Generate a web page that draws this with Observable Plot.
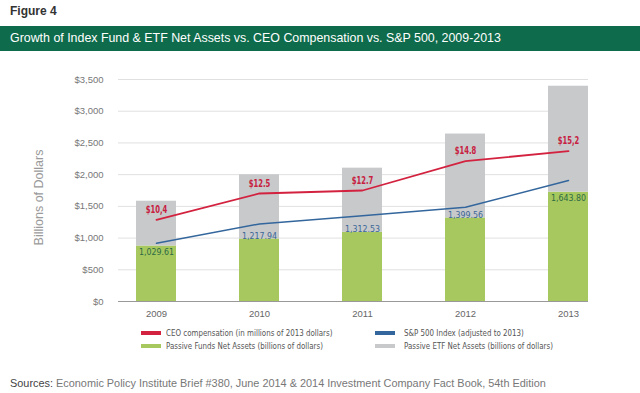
<!DOCTYPE html>
<html><head><meta charset="utf-8">
<script src="https://cdn.jsdelivr.net/npm/d3@7"></script>
<script src="https://cdn.jsdelivr.net/npm/@observablehq/plot@0.6"></script>
<style>
body{margin:0;background:#fff;}
#wrap{position:relative;width:640px;height:393px;overflow:hidden;font-family:"Liberation Sans",Arial,sans-serif;}
#fig{position:absolute;left:10px;top:3px;font-size:12px;font-weight:bold;color:#333;line-height:16px;}
#banner{position:absolute;left:0;top:26px;width:640px;height:25px;background:#0e6b4b;color:#fff;font-size:12.4px;line-height:25px;padding-left:10px;box-sizing:border-box;}
#chart{position:absolute;left:0;top:56px;}
.lg{position:absolute;font-family:"DejaVu Sans Condensed","Liberation Sans",sans-serif;font-size:9px;color:#555;line-height:12px;white-space:nowrap;transform:scaleX(0.875);transform-origin:0 50%;}
.sw{position:absolute;width:20px;height:4px;}
#src{position:absolute;left:10px;top:376px;font-size:10.9px;color:#777;line-height:14px;white-space:nowrap;}
#src span{color:#444;}
</style></head><body>
<div id="wrap">
 <div id="fig">Figure 4</div>
 <div id="banner">Growth of Index Fund &amp; ETF Net Assets vs. CEO Compensation vs. S&amp;P 500, 2009-2013</div>
 <div id="chart"></div>
 <div id="legend"></div>
 <div id="src"><span>Sources:</span> Economic Policy Institute Brief #380, June 2014 &amp; 2014 Investment Company Fact Book, 54th Edition</div>
</div>
<script>
const years = ["2009", "2010", "2011", "2012", "2013"];
const passiveFunds = [875, 986, 1091, 1318, 1723];
const passiveETF = [706, 1012, 1011, 1322, 1671];
const ceoLine = [1287, 1703, 1750, 2213, 2371];
const ceoLabels = ["$10,4", "$12.5", "$12.7", "$14.8", "$15,2"];
const spLine = [917, 1223, 1350, 1486, 1908];
const spLabels = ["1,029.61", "1,217.94", "1,312.53", "1,399.56", "1,643.80"];
const yTicks = [0, 500, 1000, 1500, 2000, 2500, 3000, 3500];
const legendNames = ["CEO compensation (in millions of 2013 dollars)", "S&P 500 Index (adjusted to 2013)", "Passive Funds Net Assets (billions of dollars)", "Passive ETF Net Assets (billions of dollars)"];
const legendColors = ["#d3223f", "#33669c", "#a7c85f", "#c7c9cb"];

const narrow = '"DejaVu Sans Condensed","Liberation Sans",sans-serif';
const ceoText = "#c8203f", spText = "#3b6797", fundText = "#2d6a45";
const barRows = years.flatMap((yr, i) => [
  {year: yr, series: legendNames[2], value: passiveFunds[i]},
  {year: yr, series: legendNames[3], value: passiveETF[i]}
]);
const ceoRows = years.map((yr, i) => ({year: yr, v: ceoLine[i], label: ceoLabels[i]}));
const spRows = years.map((yr, i) => ({year: yr, v: spLine[i]}));
const valRows = years.map((yr, i) => ({year: yr, v: passiveFunds[i], label: spLabels[i], inside: i === 0 || i === years.length - 1}));

const chart = Plot.plot({
  width: 640,
  height: 265,
  marginLeft: 118,
  marginRight: 52,
  marginTop: 23,
  marginBottom: 20,
  style: {fontFamily: '"Liberation Sans",Arial,sans-serif', fontSize: "9.5px", color: "#777", background: "transparent"},
  x: {type: "band", domain: years, paddingInner: 0.612, paddingOuter: 0.0858, align: 1, label: null},
  y: {domain: [0, 3500], label: null},
  color: {domain: [legendNames[2], legendNames[3]], range: [legendColors[2], legendColors[3]]},
  marks: [
    Plot.ruleY(yTicks.filter(d => d > 0), {stroke: "#e0e0e0", strokeWidth: 1}),
    Plot.barY(barRows, {x: "year", y: "value", fill: "series"}),
    Plot.ruleY([0], {stroke: "#999", strokeWidth: 1.2}),
    Plot.line(ceoRows, {x: "year", y: "v", stroke: legendColors[0], strokeWidth: 1.8}),
    Plot.line(spRows, {x: "year", y: "v", stroke: legendColors[1], strokeWidth: 1.5}),
    Plot.text(ceoRows, {x: "year", y: "v", text: "label", dy: -10, fill: ceoText, fontWeight: "bold", fontSize: 10, fontFamily: narrow}),
    Plot.text(valRows.filter(d => !d.inside), {x: "year", y: "v", text: "label", dy: -3, fill: spText, fontSize: 9.5, fontFamily: narrow}),
    Plot.text(valRows.filter(d => d.inside), {x: "year", y: "v", text: "label", dy: 5.5, fill: fundText, fontSize: 9.5, fontFamily: narrow}),
    Plot.axisY({ticks: yTicks, tickSize: 0, tickPadding: 15, tickFormat: d => "$" + d3.format(",")(d), fill: "#777", label: null}),
    Plot.axisX({tickSize: 0, tickPadding: 9, fill: "#666", label: null}),
    Plot.text(["Billions of Dollars"], {frameAnchor: "left", textAnchor: "middle", rotate: -90, dx: -80, dy: 7, fill: "#9a9a9a", fontSize: 12.5})
  ]
});
document.getElementById("chart").appendChild(chart);

function squeeze(color, factor) {
  chart.querySelectorAll(`g[fill="${color}"] text`).forEach(t => {
    const w = t.getComputedTextLength();
    t.setAttribute("textLength", (w * factor).toFixed(1));
    t.setAttribute("lengthAdjust", "spacingAndGlyphs");
  });
}
squeeze(ceoText, 0.76);
squeeze(spText, 0.92);
squeeze(fundText, 0.92);

const lg = document.getElementById("legend");
const pos = [[141, 327], [375, 327], [141, 340], [375, 340]];
legendNames.forEach((name, i) => {
  const [x, y] = pos[i];
  const sw = document.createElement("div");
  sw.className = "sw";
  sw.style.left = x + "px";
  sw.style.top = (y + 4) + "px";
  sw.style.background = legendColors[i];
  lg.appendChild(sw);
  const t = document.createElement("div");
  t.className = "lg";
  t.style.left = (x + 25 + (i % 2 ? 4 : 0)) + "px";
  t.style.top = y + "px";
  t.textContent = name;
  lg.appendChild(t);
});
</script>
</body></html>
